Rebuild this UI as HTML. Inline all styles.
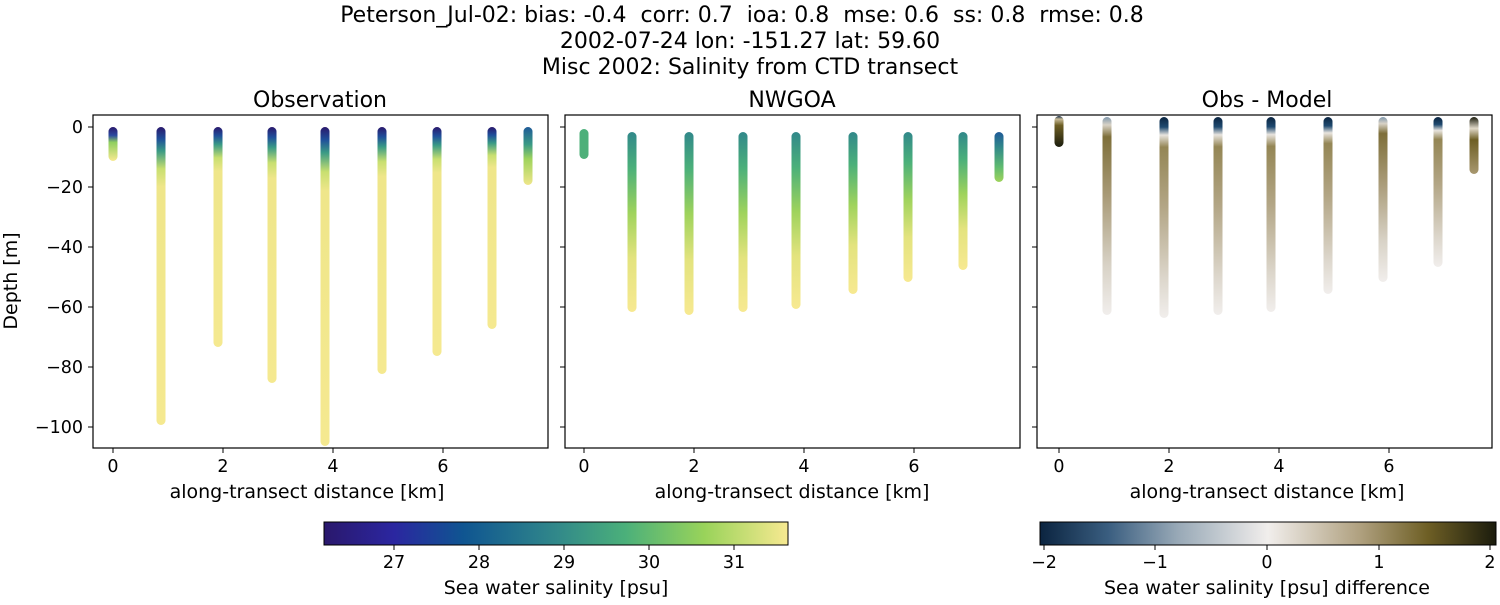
<!DOCTYPE html>
<html><head><meta charset="utf-8"><style>
body{margin:0;background:#fff;}
svg text{font-family:"DejaVu Sans","Liberation Sans",sans-serif;fill:#000;}
</style></head><body>
<svg width="1500" height="600" viewBox="0 0 1500 600" xmlns="http://www.w3.org/2000/svg">
<defs>
<linearGradient id="hal" x1="0" x2="1" y1="0" y2="0">
<stop offset="0" stop-color="#2a186c"/><stop offset="0.15" stop-color="#2b26a0"/><stop offset="0.3" stop-color="#0f5591"/><stop offset="0.5" stop-color="#31888a"/><stop offset="0.65" stop-color="#4bb07a"/><stop offset="0.82" stop-color="#99d35a"/><stop offset="1" stop-color="#f7e991"/>
</linearGradient>
<linearGradient id="dif" x1="0" x2="1" y1="0" y2="0">
<stop offset="0" stop-color="#0b2440"/><stop offset="0.15" stop-color="#3a5e80"/><stop offset="0.3" stop-color="#97a8b6"/><stop offset="0.5" stop-color="#f1eeec"/><stop offset="0.7" stop-color="#b0a180"/><stop offset="0.85" stop-color="#6e5f25"/><stop offset="1" stop-color="#1b1c0d"/>
</linearGradient>
<linearGradient id="o0" x1="0" x2="0" y1="0" y2="1"><stop offset="0" stop-color="#2a186c"/><stop offset="0.25" stop-color="#2b4aa0"/><stop offset="0.45" stop-color="#8fcf5e"/><stop offset="1" stop-color="#f7e991"/></linearGradient>
<linearGradient id="oL" x1="0" x2="0" y1="0" y2="1"><stop offset="0" stop-color="#2a186c"/><stop offset="0.04" stop-color="#1f4f9a"/><stop offset="0.08" stop-color="#3a9a85"/><stop offset="0.14" stop-color="#c8df70"/><stop offset="0.2" stop-color="#efe68a"/><stop offset="1" stop-color="#f5e990"/></linearGradient>
<linearGradient id="oE" x1="0" x2="0" y1="0" y2="1"><stop offset="0" stop-color="#1f5a98"/><stop offset="0.3" stop-color="#3a9a85"/><stop offset="0.55" stop-color="#9fd35c"/><stop offset="1" stop-color="#efe68a"/></linearGradient>
<linearGradient id="n0" x1="0" x2="0" y1="0" y2="1"><stop offset="0" stop-color="#4bb07a"/><stop offset="1" stop-color="#50b07a"/></linearGradient>
<linearGradient id="nL" x1="0" x2="0" y1="0" y2="1"><stop offset="0" stop-color="#31888a"/><stop offset="0.2" stop-color="#4bb07a"/><stop offset="0.45" stop-color="#9fd35c"/><stop offset="0.7" stop-color="#e3e37e"/><stop offset="1" stop-color="#f7e991"/></linearGradient>
<linearGradient id="nE" x1="0" x2="0" y1="0" y2="1"><stop offset="0" stop-color="#1f5a98"/><stop offset="0.3" stop-color="#31888a"/><stop offset="0.7" stop-color="#5fbb70"/><stop offset="1" stop-color="#9fd35c"/></linearGradient>
<linearGradient id="d0" x1="0" x2="0" y1="0" y2="1"><stop offset="0" stop-color="#0b2440"/><stop offset="0.1" stop-color="#c8bb98"/><stop offset="0.3" stop-color="#6e5f25"/><stop offset="1" stop-color="#1b1c0d"/></linearGradient>
<linearGradient id="dL" x1="0" x2="0" y1="0" y2="1"><stop offset="0" stop-color="#7f97ab"/><stop offset="0.04" stop-color="#d8d2c6"/><stop offset="0.1" stop-color="#7e6f3a"/><stop offset="0.4" stop-color="#a99b78"/><stop offset="0.75" stop-color="#d8d2c6"/><stop offset="1" stop-color="#f1eeec"/></linearGradient>
<linearGradient id="dB" x1="0" x2="0" y1="0" y2="1"><stop offset="0" stop-color="#0b2440"/><stop offset="0.05" stop-color="#1f4a70"/><stop offset="0.09" stop-color="#e8e4de"/><stop offset="0.15" stop-color="#948655"/><stop offset="0.45" stop-color="#b3a686"/><stop offset="0.8" stop-color="#dcd6cb"/><stop offset="1" stop-color="#f1eeec"/></linearGradient>
<linearGradient id="dE" x1="0" x2="0" y1="0" y2="1"><stop offset="0" stop-color="#1b1c0d"/><stop offset="0.2" stop-color="#e0d8c8"/><stop offset="0.4" stop-color="#6e5f25"/><stop offset="1" stop-color="#a89870"/></linearGradient>
</defs>

<text x="742" y="22" font-size="22" text-anchor="middle" xml:space="preserve" style="white-space:pre">Peterson_Jul-02: bias: -0.4  corr: 0.7  ioa: 0.8  mse: 0.6  ss: 0.8  rmse: 0.8</text>
<text x="750" y="48" font-size="22" text-anchor="middle">2002-07-24 lon: -151.27 lat: 59.60</text>
<text x="750" y="74" font-size="22" text-anchor="middle">Misc 2002: Salinity from CTD transect</text>

<text x="320" y="107" font-size="22" text-anchor="middle">Observation</text>
<text x="792" y="107" font-size="22" text-anchor="middle">NWGOA</text>
<text x="1267" y="107" font-size="22" text-anchor="middle">Obs - Model</text>

<g>
<rect x="108.5" y="127" width="9" height="34" rx="4.5" fill="url(#o0)"/>
<rect x="156.5" y="127" width="9" height="298" rx="4.5" fill="url(#oL)"/>
<rect x="213.5" y="127" width="9" height="220" rx="4.5" fill="url(#oL)"/>
<rect x="267.5" y="127" width="9" height="256" rx="4.5" fill="url(#oL)"/>
<rect x="320.5" y="127" width="9" height="319" rx="4.5" fill="url(#oL)"/>
<rect x="377.5" y="127" width="9" height="247" rx="4.5" fill="url(#oL)"/>
<rect x="432.5" y="127" width="9" height="229" rx="4.5" fill="url(#oL)"/>
<rect x="487.5" y="127" width="9" height="202" rx="4.5" fill="url(#oL)"/>
<rect x="523.5" y="127" width="9" height="58" rx="4.5" fill="url(#oE)"/>
</g>
<g>
<rect x="579.5" y="129" width="9" height="30" rx="4.5" fill="url(#n0)"/>
<rect x="627.5" y="132" width="9" height="180" rx="4.5" fill="url(#nL)"/>
<rect x="684.5" y="132" width="9" height="183" rx="4.5" fill="url(#nL)"/>
<rect x="738.5" y="132" width="9" height="180" rx="4.5" fill="url(#nL)"/>
<rect x="791.5" y="132" width="9" height="177" rx="4.5" fill="url(#nL)"/>
<rect x="848.5" y="132" width="9" height="162" rx="4.5" fill="url(#nL)"/>
<rect x="903.5" y="132" width="9" height="150" rx="4.5" fill="url(#nL)"/>
<rect x="958.5" y="132" width="9" height="138" rx="4.5" fill="url(#nL)"/>
<rect x="994.5" y="132" width="9" height="50" rx="4.5" fill="url(#nE)"/>
</g>
<g>
<rect x="1054.5" y="116" width="9" height="31" rx="4.5" fill="url(#d0)"/>
<rect x="1102.5" y="117" width="9" height="198" rx="4.5" fill="url(#dL)"/>
<rect x="1159.5" y="117" width="9" height="201" rx="4.5" fill="url(#dB)"/>
<rect x="1213.5" y="117" width="9" height="198" rx="4.5" fill="url(#dB)"/>
<rect x="1266.5" y="117" width="9" height="195" rx="4.5" fill="url(#dB)"/>
<rect x="1323.5" y="117" width="9" height="177" rx="4.5" fill="url(#dB)"/>
<rect x="1378.5" y="117" width="9" height="165" rx="4.5" fill="url(#dL)"/>
<rect x="1433.5" y="117" width="9" height="150" rx="4.5" fill="url(#dB)"/>
<rect x="1469.5" y="117" width="9" height="57" rx="4.5" fill="url(#dE)"/>
</g>

<g fill="none" stroke="#000" stroke-width="1.2">
<rect x="93" y="115" width="455" height="333"/>
<rect x="565" y="115" width="455" height="333"/>
<rect x="1037" y="115" width="455" height="333"/>
</g>
<g stroke="#000" stroke-width="1">
<line x1="88" x2="93" y1="127" y2="127"/><line x1="88" x2="93" y1="187" y2="187"/><line x1="88" x2="93" y1="247" y2="247"/><line x1="88" x2="93" y1="307" y2="307"/><line x1="88" x2="93" y1="367" y2="367"/><line x1="88" x2="93" y1="427" y2="427"/>
<line x1="560" x2="565" y1="127" y2="127"/><line x1="560" x2="565" y1="187" y2="187"/><line x1="560" x2="565" y1="247" y2="247"/><line x1="560" x2="565" y1="307" y2="307"/><line x1="560" x2="565" y1="367" y2="367"/><line x1="560" x2="565" y1="427" y2="427"/>
<line x1="1032" x2="1037" y1="127" y2="127"/><line x1="1032" x2="1037" y1="187" y2="187"/><line x1="1032" x2="1037" y1="247" y2="247"/><line x1="1032" x2="1037" y1="307" y2="307"/><line x1="1032" x2="1037" y1="367" y2="367"/><line x1="1032" x2="1037" y1="427" y2="427"/>
</g>
<g font-size="17.5" text-anchor="end">
<text x="83" y="133">0</text><text x="83" y="193">−20</text><text x="83" y="253">−40</text><text x="83" y="313">−60</text><text x="83" y="373">−80</text><text x="83" y="433">−100</text>
</g>
<text transform="translate(17,281) rotate(-90)" font-size="19" text-anchor="middle">Depth [m]</text>
<g stroke="#000" stroke-width="1">
<line x1="113" x2="113" y1="448" y2="453"/><line x1="223" x2="223" y1="448" y2="453"/><line x1="333" x2="333" y1="448" y2="453"/><line x1="443" x2="443" y1="448" y2="453"/>
<line x1="584" x2="584" y1="448" y2="453"/><line x1="694" x2="694" y1="448" y2="453"/><line x1="804" x2="804" y1="448" y2="453"/><line x1="914" x2="914" y1="448" y2="453"/>
<line x1="1059" x2="1059" y1="448" y2="453"/><line x1="1169" x2="1169" y1="448" y2="453"/><line x1="1279" x2="1279" y1="448" y2="453"/><line x1="1389" x2="1389" y1="448" y2="453"/>
</g>
<g font-size="17.5" text-anchor="middle">
<text x="113" y="472">0</text><text x="223" y="472">2</text><text x="333" y="472">4</text><text x="443" y="472">6</text>
<text x="584" y="472">0</text><text x="694" y="472">2</text><text x="804" y="472">4</text><text x="914" y="472">6</text>
<text x="1059" y="472">0</text><text x="1169" y="472">2</text><text x="1279" y="472">4</text><text x="1389" y="472">6</text>
<text x="307" y="498" font-size="19">along-transect distance [km]</text>
<text x="792" y="498" font-size="19">along-transect distance [km]</text>
<text x="1267" y="498" font-size="19">along-transect distance [km]</text>
</g>

<rect x="324" y="522" width="464" height="23" fill="url(#hal)" stroke="#000" stroke-width="1"/>
<g stroke="#000"><line x1="394" x2="394" y1="545" y2="550"/><line x1="479" x2="479" y1="545" y2="550"/><line x1="564" x2="564" y1="545" y2="550"/><line x1="649" x2="649" y1="545" y2="550"/><line x1="734" x2="734" y1="545" y2="550"/></g>
<g font-size="17.5" text-anchor="middle"><text x="394" y="568">27</text><text x="479" y="568">28</text><text x="564" y="568">29</text><text x="649" y="568">30</text><text x="734" y="568">31</text>
<text x="556" y="594" font-size="19">Sea water salinity [psu]</text></g>

<rect x="1040" y="522" width="456" height="23" fill="url(#dif)" stroke="#000" stroke-width="1"/>
<g stroke="#000"><line x1="1044" x2="1044" y1="545" y2="550"/><line x1="1155" x2="1155" y1="545" y2="550"/><line x1="1267" x2="1267" y1="545" y2="550"/><line x1="1379" x2="1379" y1="545" y2="550"/><line x1="1490" x2="1490" y1="545" y2="550"/></g>
<g font-size="17.5" text-anchor="middle"><text x="1044" y="568">−2</text><text x="1155" y="568">−1</text><text x="1267" y="568">0</text><text x="1379" y="568">1</text><text x="1490" y="568">2</text>
<text x="1267" y="594" font-size="19">Sea water salinity [psu] difference</text></g>
</svg>
</body></html>
